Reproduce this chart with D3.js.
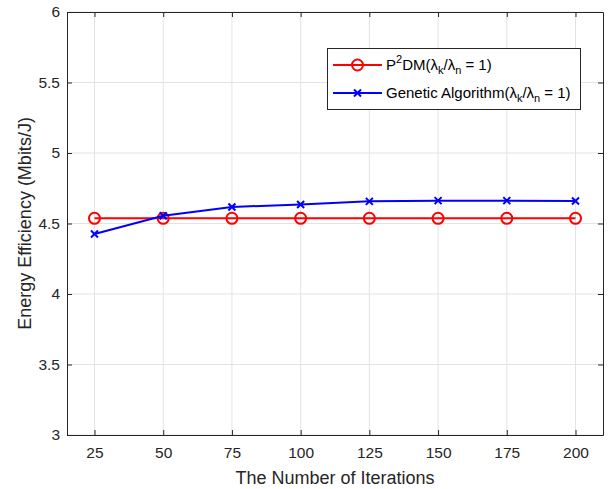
<!DOCTYPE html>
<html>
<head>
<meta charset="utf-8">
<script src="https://cdn.jsdelivr.net/npm/d3@7/dist/d3.min.js"></script>
<style>
  body { margin: 0; background: #fff; }
  svg { font-family: "Liberation Sans", Arial, sans-serif; }
</style>
</head>
<body>
<svg id="chart" width="608" height="489"></svg>
<script>
// Energy efficiency versus number of iterations
const iterations = [25, 50, 75, 100, 125, 150, 175, 200];
const p2dmValues = [4.537, 4.537, 4.537, 4.537, 4.537, 4.537, 4.537, 4.537];
const gaValues = [4.425, 4.555, 4.617, 4.635, 4.657, 4.662, 4.662, 4.660];
const xTicks = [25, 50, 75, 100, 125, 150, 175, 200];
const yTicks = [3, 3.5, 4, 4.5, 5, 5.5, 6];

const svg = d3.select("#chart");
const margin = { left: 67, right: 5, top: 12, bottom: 54 };
const W = 608, H = 489;
const x = d3.scaleLinear().domain([15, 210]).range([margin.left, W - margin.right]);
const y = d3.scaleLinear().domain([3, 6]).range([H - margin.bottom, margin.top]);

const plotL = x.range()[0], plotR = x.range()[1], plotT = y.range()[1], plotB = y.range()[0];

svg.append("rect").attr("x", plotL).attr("y", plotT)
  .attr("width", plotR - plotL).attr("height", plotB - plotT).attr("fill", "#fff");

// grid
const grid = svg.append("g").attr("stroke", "#e3e3e3").attr("stroke-width", 1);
xTicks.forEach(t => grid.append("line").attr("x1", x(t)).attr("x2", x(t)).attr("y1", plotT).attr("y2", plotB));
yTicks.forEach(t => grid.append("line").attr("y1", y(t)).attr("y2", y(t)).attr("x1", plotL).attr("x2", plotR));

// axes
const xAxis = d3.axisBottom(x).tickValues(xTicks).tickSizeInner(-5).tickSizeOuter(0).tickPadding(12);
const yAxis = d3.axisLeft(y).tickValues(yTicks).tickFormat(d3.format("~g")).tickSizeInner(-5).tickSizeOuter(0).tickPadding(7);
const xAxisTop = d3.axisTop(x).tickValues(xTicks).tickSizeInner(-5).tickSizeOuter(0).tickFormat("");
const yAxisRight = d3.axisRight(y).tickValues(yTicks).tickSizeInner(-5).tickSizeOuter(0).tickFormat("");

function styleAxis(g) {
  g.select(".domain").attr("stroke", "#262626");
  g.selectAll(".tick line").attr("stroke", "#262626");
  g.selectAll(".tick text").attr("fill", "#262626").attr("font-size", 15.5).attr("font-family", "Liberation Sans, Arial, sans-serif");
}
svg.append("g").attr("transform", `translate(0,${plotB})`).call(xAxis).call(styleAxis);
svg.append("g").attr("transform", `translate(${plotL},0)`).call(yAxis).call(styleAxis);
svg.append("g").attr("transform", `translate(0,${plotT})`).call(xAxisTop).call(styleAxis);
svg.append("g").attr("transform", `translate(${plotR},0)`).call(yAxisRight).call(styleAxis);

// axis titles
svg.append("text").attr("x", (plotL + plotR) / 2).attr("y", 484)
  .attr("text-anchor", "middle").attr("font-size", 18).attr("fill", "#262626")
  .text("The Number of Iterations");
svg.append("text").attr("transform", `translate(31,${(plotT + plotB) / 2}) rotate(-90)`)
  .attr("text-anchor", "middle").attr("font-size", 18).attr("fill", "#262626")
  .text("Energy Efficiency (Mbits/J)");

// series
const line = d3.line().x(d => x(d[0])).y(d => y(d[1]));
const p2dm = iterations.map((t, i) => [t, p2dmValues[i]]);
const ga = iterations.map((t, i) => [t, gaValues[i]]);

svg.append("path").datum(p2dm).attr("d", line).attr("fill", "none").attr("stroke", "#ff0000").attr("stroke-width", 2);
svg.append("g").selectAll("circle").data(p2dm).join("circle")
  .attr("cx", d => x(d[0])).attr("cy", d => y(d[1])).attr("r", 5.5)
  .attr("fill", "none").attr("stroke", "#ff0000").attr("stroke-width", 2);

svg.append("path").datum(ga).attr("d", line).attr("fill", "none").attr("stroke", "#0000ff").attr("stroke-width", 2);
function cross(g, cx, cy, s) {
  g.append("path").attr("d", `M${cx - s},${cy - s}L${cx + s},${cy + s}M${cx - s},${cy + s}L${cx + s},${cy - s}`)
    .attr("stroke", "#0000ff").attr("stroke-width", 2).attr("fill", "none");
}
const gaMarks = svg.append("g");
ga.forEach(d => cross(gaMarks, x(d[0]), y(d[1]), 3.5));

// legend
const lg = svg.append("g");
lg.append("rect").attr("x", 327.5).attr("y", 48.5).attr("width", 253).attr("height", 61)
  .attr("fill", "#fff").attr("stroke", "#262626").attr("stroke-width", 1);
lg.append("line").attr("x1", 333).attr("x2", 382).attr("y1", 65).attr("y2", 65).attr("stroke", "#ff0000").attr("stroke-width", 2);
lg.append("circle").attr("cx", 357.5).attr("cy", 65).attr("r", 5.5).attr("fill", "none").attr("stroke", "#ff0000").attr("stroke-width", 2);
lg.append("line").attr("x1", 333).attr("x2", 382).attr("y1", 93).attr("y2", 93).attr("stroke", "#0000ff").attr("stroke-width", 2);
cross(lg, 357.5, 93, 3.5);

const t1 = lg.append("text").attr("x", 386).attr("y", 70).attr("font-size", 15).attr("fill", "#000");
t1.append("tspan").text("P");
t1.append("tspan").attr("dy", -7).attr("font-size", 11).text("2");
t1.append("tspan").attr("dy", 7).text("DM(λ");
t1.append("tspan").attr("dy", 4).attr("font-size", 11).text("k");
t1.append("tspan").attr("dy", -4).text("/λ");
t1.append("tspan").attr("dy", 4).attr("font-size", 11).text("n");
t1.append("tspan").attr("dy", -4).text(" = 1)");

const t2 = lg.append("text").attr("x", 386).attr("y", 98).attr("font-size", 15).attr("fill", "#000");
t2.append("tspan").text("Genetic Algorithm(λ");
t2.append("tspan").attr("dy", 4).attr("font-size", 11).text("k");
t2.append("tspan").attr("dy", -4).text("/λ");
t2.append("tspan").attr("dy", 4).attr("font-size", 11).text("n");
t2.append("tspan").attr("dy", -4).text(" = 1)");
</script>
</body>
</html>
